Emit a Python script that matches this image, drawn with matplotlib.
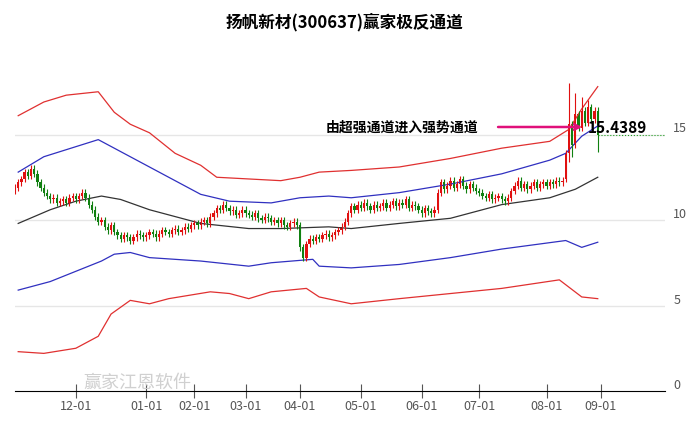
import matplotlib
matplotlib.use("Agg")
import matplotlib.pyplot as plt

plt.rcParams['font.family'] = ['Noto Sans CJK SC', 'DejaVu Sans']

title = "扬帆新材(300637)赢家极反通道"
closes = [11.9,12.2,12.4,12.8,12.6,13.0,12.7,12.2,11.9,11.6,11.4,11.2,11.3,11.0,11.1,11.2,11.0,11.3,11.4,11.2,
          11.4,11.6,11.3,10.9,10.6,10.2,9.9,10.0,9.6,9.4,9.7,9.3,9.1,8.9,9.1,9.0,8.8,9.0,9.2,9.1,9.0,
          9.1,9.3,9.2,9.0,9.2,9.4,9.3,9.2,9.4,9.5,9.3,9.4,9.6,9.5,9.7,
          9.8,9.7,9.9,10.0,9.8,10.2,10.4,10.7,10.6,10.9,10.7,10.5,10.6,10.3,10.4,10.6,
          10.4,10.3,10.2,10.4,10.1,10.0,10.2,10.1,9.9,10.0,9.8,10.0,9.7,9.6,9.8,9.9,9.7,
          8.4,7.8,8.6,8.9,8.8,9.0,8.9,9.1,9.2,9.0,9.1,9.3,9.4,9.6,9.9,10.4,10.8,10.6,10.9,
          10.7,11.0,10.8,10.6,10.9,10.7,10.8,11.0,10.7,10.9,11.1,10.8,11.0,10.9,11.2,10.7,10.9,10.8,10.6,
          10.4,10.7,10.5,10.4,10.6,11.6,12.2,11.8,12.0,12.3,11.9,12.1,12.4,12.0,11.8,12.1,11.9,11.7,
          11.6,11.4,11.3,11.5,11.2,11.3,11.4,11.2,11.1,11.3,11.7,12.0,12.3,11.9,12.1,11.8,12.0,12.2,11.9,12.1,12.2,
          12.0,12.2,12.1,12.3,12.2,12.3,13.9,15.6,14.4,16.2,15.4,16.4,15.7,16.6,15.9,16.4,15.0]
opens_override = {172: 12.4, 182: 16.4}
highs_override = {173: 18.0, 175: 17.4, 177: 17.2, 179: 17.0}
lows_override = {173: 13.4, 174: 13.7, 182: 14.0, 90: 7.6}

ru_x = [1, 9, 16, 26, 31, 36, 42, 50, 58, 63, 73, 83, 89, 95, 105, 120, 136, 152, 167, 173, 177, 182]
ru_y = [16.1, 16.9, 17.3, 17.5, 16.3, 15.6, 15.1, 13.9, 13.2, 12.5, 12.4, 12.3, 12.5, 12.8, 12.9, 13.1, 13.6, 14.2, 14.6, 15.3, 16.5, 17.8]
bu_x = [1, 9, 26, 31, 42, 58, 67, 80, 89, 98, 105, 120, 136, 152, 167, 172, 177, 182]
bu_y = [12.8, 13.7, 14.7, 14.2, 13.1, 11.5, 11.1, 11.0, 11.3, 11.4, 11.3, 11.6, 12.1, 12.7, 13.5, 13.9, 14.9, 15.5]
md_x = [1, 11, 19, 27, 33, 42, 58, 73, 83, 98, 105, 120, 136, 152, 167, 175, 182]
md_y = [9.8, 10.6, 11.1, 11.4, 11.2, 10.6, 9.8, 9.5, 9.5, 9.6, 9.5, 9.8, 10.1, 10.9, 11.3, 11.8, 12.5]
bl_x = [1, 11, 19, 27, 31, 36, 42, 58, 73, 80, 93, 95, 105, 120, 136, 152, 172, 177, 182]
bl_y = [5.9, 6.4, 7.0, 7.6, 8.0, 8.1, 7.8, 7.6, 7.3, 7.5, 7.7, 7.3, 7.2, 7.4, 7.8, 8.3, 8.8, 8.4, 8.7]
rl_x = [1, 9, 19, 26, 30, 36, 42, 48, 61, 67, 73, 80, 91, 95, 105, 120, 136, 152, 170, 177, 182]
rl_y = [2.3, 2.2, 2.5, 3.2, 4.5, 5.3, 5.1, 5.4, 5.8, 5.7, 5.4, 5.8, 6.0, 5.5, 5.1, 5.4, 5.7, 6.0, 6.5, 5.5, 5.4]

tick_idx = [19, 41, 56, 72, 89, 108, 127, 145, 166, 183]
tick_lab = ["12-01","01-01","02-01","03-01","04-01","05-01","06-01","07-01","08-01","09-01"]
mark_value = 15.4389

fig = plt.figure(figsize=(6.89, 4.27), dpi=100)
ax = fig.add_axes([15/689, 35/427, 650/689, 352/427])
ax.set_xlim(0, 203)
ax.set_ylim(0, 352/17.1)

for v in [5, 10, 15]:
    ax.axhline(v, color='#e6e6e6', lw=1, zorder=0)

ax.plot(ru_x, ru_y, color='#e03030', lw=0.9)
ax.plot(rl_x, rl_y, color='#e03030', lw=0.9)
ax.plot(bu_x, bu_y, color='#3030c0', lw=0.9)
ax.plot(bl_x, bl_y, color='#3030c0', lw=0.9)
ax.plot(md_x, md_y, color='#333333', lw=0.9)

for i, c in enumerate(closes):
    o = opens_override.get(i, closes[i-1] if i > 0 else c - 0.2)
    if abs(o - c) < 0.05:
        o = c - 0.1
    col = '#e01010' if c >= o else '#108010'
    h = highs_override.get(i, max(o, c) + 0.2)
    l = lows_override.get(i, min(o, c) - 0.2)
    ax.vlines(i, l, h, color=col, lw=0.8)
    ax.bar(i, abs(c - o), bottom=min(o, c), width=0.7, color=col)

ax.plot([182, 203], [15.0, 15.0], color='#20a020', lw=0.8, ls=':')
ax.annotate("", xy=(178, mark_value), xytext=(150, mark_value),
            arrowprops=dict(arrowstyle='->', color='#e0107a', lw=1.8))
ax.text(97, mark_value, "由超强通道进入强势通道", fontsize=10, fontweight='bold', va='center')
ax.text(179, mark_value, "15.4389", fontsize=11, fontweight='bold', va='center')

for s in ['top', 'left', 'right']:
    ax.spines[s].set_visible(False)
ax.spines['bottom'].set_color('black')
ax.yaxis.tick_right()
ax.set_yticks([0, 5, 10, 15])
ax.set_yticklabels(['0', '5', '10', '15'], va='bottom')
ax.tick_params(axis='y', length=0, pad=6, labelcolor='#555555', labelsize=9)
ax.set_xticks(tick_idx)
ax.set_xticklabels(tick_lab)
ax.tick_params(axis='x', direction='inout', length=10, colors='#555555', labelsize=9, pad=1)

fig.text(0.5, 1 - 22/427, title, ha='center', va='center', fontsize=12, fontweight='bold')
fig.text(83/689, 1 - 383/427, "赢家江恩软件", fontsize=13, color='#d0d0d0', va='center')
fig.savefig("out.png", dpi=100)
